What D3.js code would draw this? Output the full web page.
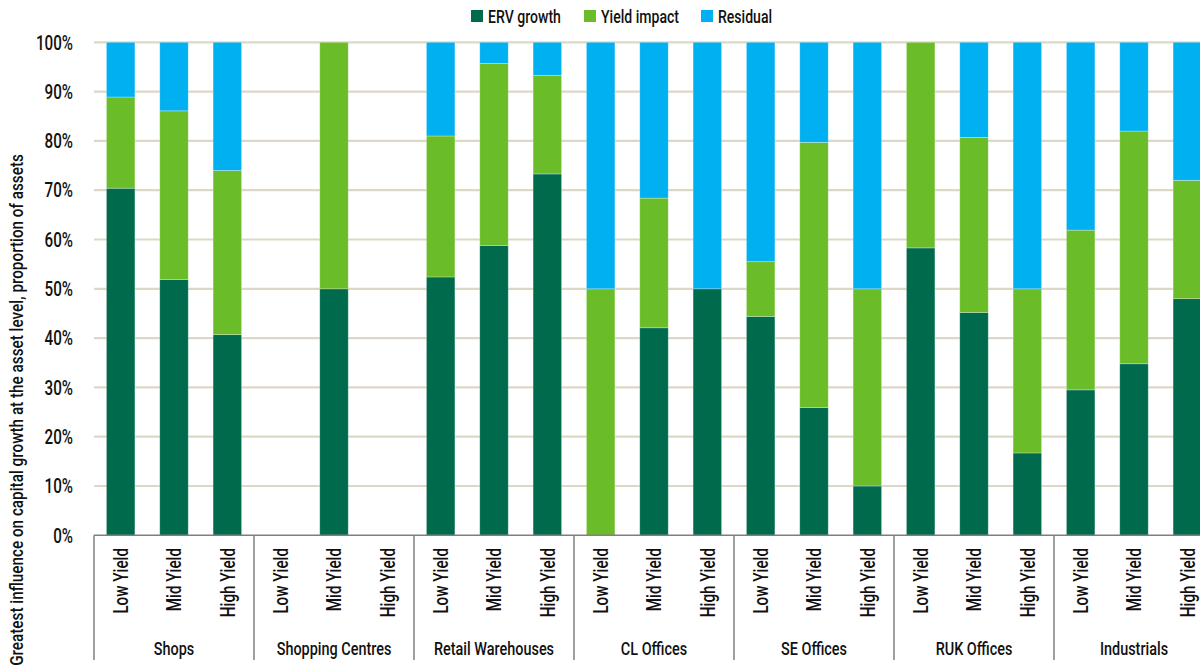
<!DOCTYPE html>
<html>
<head>
<meta charset="utf-8">
<script src="https://cdn.jsdelivr.net/npm/d3@7"></script>
<style>
  html, body { margin: 0; padding: 0; background: #fff; overflow: hidden; }
  svg { display: block; }
  text { font-family: Roboto, "Liberation Sans", Arial, sans-serif; font-weight: 500; fill: #111; }
</style>
</head>
<body>
<svg id="chart" width="1200" height="667"></svg>
<script>
// Sectors and yield bands along the x axis
const sectors = ["Shops", "Shopping Centres", "Retail Warehouses", "CL Offices", "SE Offices", "RUK Offices", "Industrials"];
const yieldBands = ["Low Yield", "Mid Yield", "High Yield"];

// Share of assets (%) per series, ordered sector by sector, Low/Mid/High yield
const ervGrowth   = [70.4, 51.9, 40.7,  0, 50, 0,  52.4, 58.8, 73.3,  0, 42.1, 50,  44.4, 25.9, 10,  58.3, 45.2, 16.7,  29.5, 34.8, 48.0];
const yieldImpact = [18.5, 34.2, 33.3,  0, 50, 0,  28.6, 36.9, 20.0,  50, 26.3, 0,  11.1, 53.8, 40,  41.7, 35.5, 33.3,  32.4, 47.2, 24.0];
const residual    = [11.1, 13.9, 26.0,  0, 0, 0,   19.0, 4.3, 6.7,    50, 31.6, 50, 44.5, 20.3, 50,  0, 19.3, 50,         38.1, 18.0, 28.0];

const seriesNames = ["ERV growth", "Yield impact", "Residual"];
const yTicks = [0, 10, 20, 30, 40, 50, 60, 70, 80, 90, 100];

const colors = { "ERV growth": "#006a4d", "Yield impact": "#6abd28", "Residual": "#00b0f0" };

// Narrow lettering: glyphs are compressed along the reading direction
const NARROW = 0.76;

// Build rows for the stack layout
const rows = [];
sectors.forEach((s, si) => {
  yieldBands.forEach((b, bi) => {
    const i = si * 3 + bi;
    rows.push({
      key: s + "|" + b, sector: s, band: b,
      "ERV growth": ervGrowth[i], "Yield impact": yieldImpact[i], "Residual": residual[i]
    });
  });
});

const svg = d3.select("#chart");
const left = 94, plotTop = 42.3, plotBottom = 535.3;
const right = left + 1120; // plot runs past the visible edge

const x = d3.scaleBand()
  .domain(rows.map(d => d.key))
  .range([left, right])
  .paddingInner(0.466)
  .paddingOuter(0.233);

const y = d3.scaleLinear().domain([0, 100]).range([plotBottom, plotTop]);

// Gridlines
svg.append("g").selectAll("line")
  .data(yTicks.filter(t => t > 0))
  .join("line")
  .attr("x1", left).attr("x2", 1200)
  .attr("y1", d => y(d)).attr("y2", d => y(d))
  .attr("stroke", "#ddd7c6").attr("stroke-width", 2.2);

// Y tick labels
svg.append("g").selectAll("text")
  .data(yTicks)
  .join("text")
  .attr("transform", d => `translate(73,${y(d)}) scale(${NARROW},1)`)
  .attr("dy", "0.36em")
  .attr("text-anchor", "end")
  .style("font-size", "20px")
  .text(d => d + "%");

// Stacked bars
const stack = d3.stack().keys(seriesNames);
const layers = stack(rows);

svg.append("g").selectAll("g")
  .data(layers)
  .join("g")
  .attr("fill", d => colors[d.key])
  .selectAll("rect")
  .data(d => d.filter(p => p[1] - p[0] > 0))
  .join("rect")
  .attr("x", d => x(d.data.key))
  .attr("width", x.bandwidth())
  .attr("y", d => y(d[1]))
  .attr("height", d => y(d[0]) - y(d[1]))
  .attr("stroke", "#ffffff")
  .attr("stroke-opacity", 0.35)
  .attr("stroke-width", 0.8);

// Bottom axis line
svg.append("line")
  .attr("x1", left).attr("x2", 1200)
  .attr("y1", plotBottom).attr("y2", plotBottom)
  .attr("stroke", "#7f7f7f").attr("stroke-width", 1.5);

// Group separators
const step = x.step();
const sepX = d3.range(sectors.length + 1).map(i => left + i * 3 * step);
svg.append("g").selectAll("line")
  .data(sepX)
  .join("line")
  .attr("x1", d => d).attr("x2", d => d)
  .attr("y1", plotBottom).attr("y2", 660)
  .attr("stroke", "#7f7f7f").attr("stroke-width", 1.5);

// Yield band labels (rotated)
svg.append("g").selectAll("text")
  .data(rows)
  .join("text")
  .attr("transform", d => `translate(${x(d.key) + x.bandwidth() / 2},548) rotate(-90) scale(${NARROW},1)`)
  .attr("dy", "0.36em")
  .attr("text-anchor", "end")
  .style("font-size", "20px")
  .text(d => d.band);

// Sector labels
svg.append("g").selectAll("text")
  .data(sectors)
  .join("text")
  .attr("transform", (d, i) => `translate(${left + (i * 3 + 1.5) * step},648) scale(${NARROW},1)`)
  .attr("dy", "0.36em")
  .attr("text-anchor", "middle")
  .style("font-size", "19px")
  .text(d => d);

// Y axis title
svg.append("text")
  .attr("transform", `translate(23,410) rotate(-90) scale(0.85,1)`)
  .attr("text-anchor", "middle")
  .style("font-size", "18px")
  .text("Greatest influence on capital growth at the asset level, proportion of assets");

// Legend
const legendX = [471, 584, 701];
const legend = svg.append("g").selectAll("g")
  .data(seriesNames)
  .join("g")
  .attr("transform", (d, i) => `translate(${legendX[i]},16)`);
legend.append("rect")
  .attr("x", 0).attr("y", -6).attr("width", 12).attr("height", 12)
  .attr("fill", d => colors[d]);
legend.append("text")
  .attr("transform", `translate(17,0) scale(${NARROW},1)`)
  .attr("dy", "0.36em")
  .style("font-size", "18.5px")
  .text(d => d);
</script>
</body>
</html>
